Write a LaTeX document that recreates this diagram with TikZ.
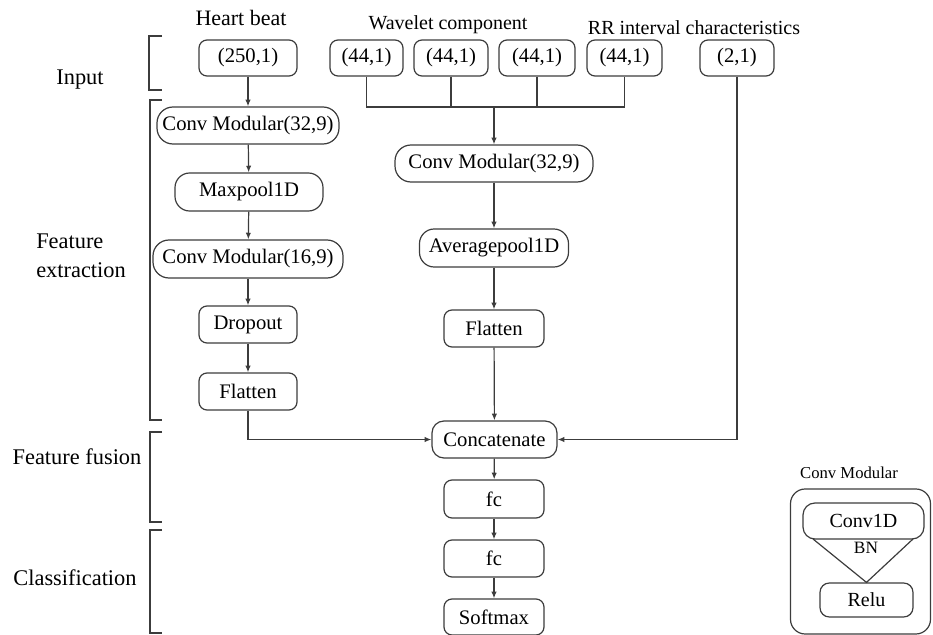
\documentclass[tikz,border=0pt]{standalone}
\usepackage{fontspec}
\setmainfont{Liberation Serif}
\usetikzlibrary{arrows.meta}
\definecolor{ln}{HTML}{3C3C3C}
\tikzset{
  box/.style={draw=ln, line width=0.9pt, rounded corners=6pt, inner sep=0pt, align=center,
    font=\fontsize{15.5pt}{18pt}\selectfont},
  sz/.style 2 args={minimum width=#1*0.75pt, minimum height=#2*0.75pt},
  arr/.style={draw=ln, line width=0.9pt, -{Latex[length=5pt,width=4pt]}},
  ln/.style={draw=ln, line width=0.9pt},
  brk/.style={draw=ln, line width=0.9pt},
  sect/.style={font=\fontsize{16.8pt}{20pt}\selectfont, inner sep=0pt},
  hdr/.style={font=\fontsize{15pt}{18pt}\selectfont, inner sep=0pt},
}
\begin{document}
\begin{tikzpicture}[x=0.75pt,y=-0.75pt]
\useasboundingbox (0,0) rectangle (933,635);

% headers
\node[hdr, font=\fontsize{16.5pt}{19pt}\selectfont] (hb) at (241,18) {Heart beat};
\node[hdr] (wc) at (448,25) {Wavelet component};
\node[hdr] (rri) at (694,28) {RR interval characteristics};

% section labels
\node[sect] (sin) at (80,80) {Input};
\node[sect, anchor=west] (sfe1) at (36,241) {Feature};
\node[sect, anchor=west] (sfe2) at (36,270) {extraction};
\node[sect] (sff) at (77,457) {Feature fusion};
\node[sect] (scl) at (75,578) {Classification};

% brackets
\draw[brk] (162,36) -- (149,36) -- (149,90) -- (162,90);
\draw[brk] (162,100) -- (150,100) -- (150,420) -- (162,420);
\draw[brk] (162,432) -- (150,432) -- (150,522) -- (162,522);
\draw[brk] (162,530) -- (150,530) -- (150,633) -- (162,633);

% input boxes
\node[box, sz={98}{36}] (hin) at (248,58) {(250,1)};
\node[box, sz={73}{36}] (w1) at (366.5,58) {(44,1)};
\node[box, sz={74}{36}] (w2) at (451,58) {(44,1)};
\node[box, sz={76}{36}] (w3) at (537,58) {(44,1)};
\node[box, sz={75}{36}] (w4) at (624.5,58) {(44,1)};
\node[box, sz={74}{36}] (rr) at (737,58) {(2,1)};

% left column
\node[box, sz={182}{37}, rounded corners=12pt] (cm1) at (248,125.5) {Conv Modular(32,9)};
\node[box, sz={148}{38}, rounded corners=11pt] (mp) at (249,192) {Maxpool1D};
\node[box, sz={190}{38}, rounded corners=12pt] (cm3) at (248,259) {Conv Modular(16,9)};
\node[box, sz={98}{37}] (dr) at (248,324.5) {Dropout};
\node[box, sz={98}{37}] (fl1) at (248,391.5) {Flatten};

% middle column
\coordinate (jw) at (494,107);
\node[box, sz={198}{37}, rounded corners=12pt] (cm2) at (494,163.5) {Conv Modular(32,9)};
\node[box, sz={149}{38}, rounded corners=11pt] (ap) at (494,248) {Averagepool1D};
\node[box, sz={100}{37}] (fl2) at (494,328.5) {Flatten};
\node[box, sz={125}{37}, rounded corners=9pt] (cat) at (494.5,439.5) {Concatenate};
\node[box, sz={100}{38}] (fc1) at (494,499) {fc};
\node[box, sz={100}{37}] (fc2) at (494,558.5) {fc};
\node[box, sz={100}{36}] (sm) at (494,617) {Softmax};

% connectors
\draw[arr] (hin) -- (cm1);
\draw[arr] (cm1) -- (mp);
\draw[arr] (mp) -- (cm3);
\draw[arr] (cm3) -- (dr);
\draw[arr] (dr) -- (fl1);
\draw[ln] (w1.south) |- (jw) -| (w4.south);
\draw[ln] (w2.south) |- (jw);
\draw[ln] (w3.south) |- (jw);
\draw[arr] (jw) -- (cm2.north);
\draw[arr] (cm2) -- (ap);
\draw[arr] (ap) -- (fl2);
\draw[arr] (fl2) -- (cat);
\draw[arr] (fl1.south) |- (cat.west);
\draw[arr] (rr.south) |- (cat.east);
\draw[arr] (cat) -- (fc1);
\draw[arr] (fc1) -- (fc2);
\draw[arr] (fc2) -- (sm);

% legend
\node[hdr, font=\fontsize{12.5pt}{15pt}\selectfont] (lgt) at (849,473) {Conv Modular};
\node[draw=ln, line width=0.9pt, rounded corners=11pt, sz={140}{145}, inner sep=0pt] (lg) at (860.5,561.5) {};
\node[box, sz={121}{36}, rounded corners=9pt, font=\fontsize{15pt}{18pt}\selectfont] (c1d) at (863.5,521) {Conv1D};
\node[box, sz={93}{34}, rounded corners=7pt, font=\fontsize{15pt}{18pt}\selectfont] (relu) at (866.5,600) {Relu};
\coordinate (tl) at (813,539);
\coordinate (tr) at (913,539);
\draw[ln] (tl) -- (relu.north) -- (tr);
\node[hdr, font=\fontsize{13pt}{15pt}\selectfont] (bn) at (866,548) {BN};
\end{tikzpicture}
\end{document}
